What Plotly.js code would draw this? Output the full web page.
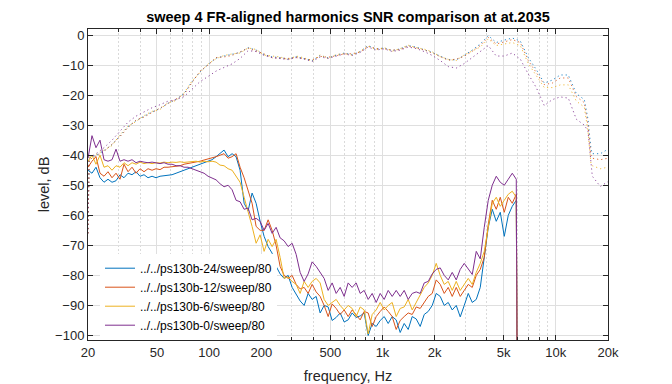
<!DOCTYPE html>
<html>
<head>
<meta charset="utf-8">
<script src="https://cdn.plot.ly/plotly-3.0.1.min.js"></script>
<style>html,body{margin:0;padding:0;background:#fff;}#chart{width:672px;height:384px;}</style>
</head>
<body>
<div id="chart"></div>
<script>
// ---------- data ----------
var seriesNames = ['../../ps130b-24/sweep/80', '../../ps130b-12/sweep/80', '../../ps130b-6/sweep/80', '../../ps130b-0/sweep/80'];
var seriesColors = ['#0072BD', '#D95319', '#EDB120', '#7E2F8E'];

// frequency grid of the harmonic (solid) curves, Hz
var freqH = [20, 21.09, 22.24, 23.46, 24.74, 26.09, 27.52, 29.02, 30.60, 32.27, 34.04, 35.90, 37.86, 39.92, 42.10, 44.40, 46.83, 49.38, 52.08, 54.92, 57.92, 61.09, 64.42, 67.94, 71.65, 75.56, 79.69, 84.04, 88.63, 93.47, 98.57, 103.95, 109.6, 115.6, 121.9, 128.6, 135.6, 143.0, 150.8, 159.1, 167.8, 176.9, 186.6, 196.8, 207.5, 218.9, 230.8, 243.4, 256.7, 270.7, 285.5, 301.1, 317.6, 334.9, 353.2, 372.5, 392.8, 414.3, 436.9, 460.7, 485.9, 512.4, 540.4, 569.9, 601.0, 633.9, 668.5, 705.0, 743.5, 784.1, 826.9, 872.1, 919.7, 969.9, 1022.9, 1078.7, 1137.6, 1199.8, 1265.3, 1334.4, 1407.3, 1484.1, 1565.2, 1650.6, 1740.8, 1835.8, 1936.1, 2041.8, 2153.3, 2270.9, 2395.0, 2525.7, 2663.6, 2809.1, 2962.5, 3124.3, 3294.9, 3474.9, 3664.6, 3864.8, 4075.8, 4298.4, 4533.2, 4780.7, 5041.8, 5317.1, 5607.5, 5913.7, 6000];

// harmonics level, dB (solid lines)
var harm24 = [-45, -46, -44, -47.5, -49, -48, -49, -48.5, -46.5, -47.5,
  -46, -46.5, -45.5, -47, -46.5, -47.5, -47, -47.5, -47, -46.8,
  -46.5, -46.5, -46, -45.5, -45, -44.5, -44, -43.5, -43, -42.5,
  -42, -41.5, -40.5, -39.5, -38.3, -40.5, -39.5, -40.5, -45, -56,
  -58.5, -52.6, -56, -62, -67, -70.4, -72.6, -77, -79.5, -81,
  -80, -84, -86.5, -88.5, -90, -86, -88, -87, -92.5, -90,
  -90.5, -95, -94, -92.5, -95.5, -94.8, -92.5, -94, -93.5, -92.5,
  -100, -96, -97, -95, -93.7, -96, -93.7, -94.8, -99, -96,
  -98, -93.7, -94.5, -97, -93, -92, -90, -86, -87, -90,
  -89, -91.5, -90, -93.8, -90, -86, -89, -88, -84, -73,
  -64, -58, -62, -59, -67, -60, -57, -55, -130];
var harm12 = [-44, -42, -40.5, -46, -47, -45.5, -47.5, -46, -48, -43,
  -45.5, -44, -46, -44.5, -45.5, -44.5, -45, -44.5, -44.8, -44,
  -44, -43.8, -43.5, -43.5, -43, -42.8, -42.6, -42.3, -42, -41.6,
  -41.3, -40.8, -40.5, -40, -39.5, -41, -40.5, -39.5, -44, -47.5,
  -51.5, -56, -63.7, -65, -65, -61.5, -65, -70, -77, -80,
  -81, -80, -83, -84.5, -84, -86, -83, -85.5, -87, -90,
  -93.7, -89.5, -91, -93, -91.5, -93.7, -91.5, -93, -94.8, -92,
  -92.5, -97, -93.7, -92, -90.5, -92, -93.7, -98, -95, -93.7,
  -92.5, -93, -90.5, -91, -89, -87, -86, -81.5, -83, -86,
  -84, -87, -84, -87, -85, -83, -84, -80, -78, -74,
  -63, -55, -58, -54, -59, -54, -56, -53, -130];
var harm6 = [-42, -40, -43, -40, -44, -43.5, -45, -43.5, -44, -42.5,
  -43.5, -42.5, -43, -42.3, -42.8, -42.5, -42.8, -42.5, -42.6, -42.3,
  -42.5, -42.3, -42.4, -42.2, -42.4, -42.2, -42.2, -42, -42.3, -42,
  -42.2, -42, -42.3, -43.3, -43.5, -44.5, -45, -47, -49, -54,
  -58.5, -63.7, -69.3, -66.5, -72, -68, -70.4, -68, -74, -81,
  -80.5, -82, -83, -86, -82, -84, -82, -81, -82.5, -88,
  -90, -89, -88, -90, -91.5, -90, -91, -93.7, -90.5, -91.5,
  -99.5, -93, -91.5, -89, -91.5, -90, -89, -93.7, -91, -90.5,
  -88, -91.5, -89, -87, -84, -82.5, -80, -76, -80, -83,
  -82, -85, -82, -85, -83, -81, -83, -79, -76, -72,
  -64, -56, -54, -57, -55, -53, -52, -54, -130];
var harm0 = [-41, -33.5, -37.5, -35, -41.5, -42, -41.5, -38, -42, -41.5,
  -42, -41.5, -42.5, -42, -42.3, -42.5, -42.3, -42.5, -42.8, -42.5,
  -43, -43, -43.5, -43.5, -44, -44, -44.5, -45, -45.6, -46,
  -47, -47.5, -48.2, -49.5, -50.5, -50, -51.5, -55, -55.5, -58,
  -57.6, -61.5, -61, -62, -65, -62.7, -66, -64, -67.5, -68.5,
  -70.4, -69.3, -73, -79, -82, -79.5, -75.5, -77, -79, -81,
  -85, -82.5, -86, -84, -87, -82.5, -84, -82.5, -86, -85,
  -88, -86, -89, -86, -88, -85, -87, -85, -87, -85,
  -88, -86, -85.5, -86, -82.5, -82, -79.5, -78, -77.5, -80,
  -81.5, -79, -81.5, -78, -76, -78, -79.7, -72, -74.5, -64,
  -55, -50, -47, -49, -50, -48, -46, -48, -130];

// frequency grid of the FR (dotted) curves, Hz
var freqFR = [20, 20.3, 22.24, 24.74, 27.52, 30.60, 34.04, 37.86, 42.10, 46.83, 52.08, 57.92, 64.42, 71.65, 79.69, 88.63, 98.57, 109.6, 121.9, 135.6, 150.8, 167.8, 186.6, 207.5, 230.8, 256.7, 285.5, 317.6, 353.2, 392.8, 436.9, 485.9, 540.4, 601.0, 668.5, 743.5, 826.9, 919.7, 1022.9, 1137.6, 1265.3, 1407.3, 1565.2, 1740.8, 1936.1, 2153.3, 2395, 2663.6, 2962.5, 3294.9, 3664.6, 4075.8, 4533.2, 5041.8, 5607.5, 6236.6, 6936, 7714, 8580, 9542, 10613, 11804, 13128, 14600, 15332, 15958, 16238, 18060, 20000];

// aligned frequency response, dB (dotted lines)
var fr24 = [-66, -41, -40, -38.5, -36.5, -33.5, -30.5, -28.5, -27, -25.6, -24.5, -22.7, -21.5, -19.5, -15.5, -12.3, -9.8, -7.7, -7, -6.5, -5.8, -4.2, -5, -6.5, -7.3, -7.5, -8, -7.2, -7.8, -8.5, -6.8, -7.6, -6.7, -6, -6.5, -5.5, -3.5, -4.7, -4.3, -5.2, -4.6, -3.5, -4, -4.8, -5.8, -7, -8.2, -8.3, -6.8, -5, -3, -0.2, -2.5, -1.7, -1, -2, -7.5, -11.5, -16, -15, -13.3, -13.3, -19.5, -21.5, -28, -38, -39.5, -39.5, -38];
var fr12 = [-66, -41.5, -40.3, -38.8, -36.3, -33.8, -30.8, -28.3, -27.3, -25.8, -24.3, -23, -21.3, -19.8, -15.8, -12, -10, -7.5, -7.3, -6.8, -5.6, -4.4, -5.3, -6.3, -7.6, -7.8, -7.8, -7.5, -8, -8.3, -7.1, -7.4, -6.9, -6.3, -6.2, -5.7, -3.8, -4.5, -4.6, -5, -4.9, -3.7, -4.3, -5, -6, -7.3, -8.4, -8, -7.1, -5.4, -3.5, -0.8, -3, -2.3, -1.5, -2.5, -8.5, -12.5, -16.5, -16, -14.3, -14.3, -20.5, -22.5, -30, -40, -41, -41.5, -41];
var fr6 = [-66, -40.5, -39.8, -38.2, -36.8, -33.2, -30.3, -28.8, -26.8, -25.4, -24.8, -22.5, -21.8, -19.3, -15.3, -12.5, -9.6, -7.9, -6.8, -6.3, -6, -4.3, -4.8, -6.7, -7.1, -7.3, -8.2, -7, -7.6, -8.7, -6.6, -7.8, -6.5, -6.2, -6.7, -5.4, -3.6, -4.9, -4.2, -5.4, -4.5, -3.4, -4.2, -4.7, -5.6, -7.2, -8.1, -8.5, -6.6, -5.2, -4, -1.3, -3.5, -3, -2.5, -3.5, -9.5, -13.5, -17.5, -17.5, -16.6, -16.6, -22, -24, -32, -43, -43.5, -44.5, -44];
var fr0 = [-66, -41, -39.5, -37.5, -35, -32, -29, -27, -25.5, -24.2, -23.2, -22, -21.5, -20.5, -18, -15.5, -13.8, -12, -10.8, -9.6, -7.8, -5.2, -5.5, -6.8, -7.5, -7.8, -8.2, -7.5, -8, -8.8, -7.3, -7.8, -7, -6.3, -6.8, -5.8, -4, -5, -4.6, -5.5, -5, -4, -4.5, -5.5, -6.8, -8.5, -10.5, -11, -9.5, -7.5, -5.5, -3.5, -7, -7, -6, -8, -13, -17.5, -23.5, -21.5, -20.6, -21, -28, -30, -32, -44, -47, -50.4, -48.8];

// axis ticks
var xTickVals = [20, 50, 100, 200, 500, 1000, 2000, 5000, 10000, 20000];
var xTickText = ['20', '50', '100', '200', '500', '1k', '2k', '5k', '10k', '20k'];
var xMinorVals = [30, 40, 60, 70, 80, 90, 300, 400, 600, 700, 800, 900, 3000, 4000, 6000, 7000, 8000, 9000];
var yTickVals = [0, -10, -20, -30, -40, -50, -60, -70, -80, -90, -100];

// ---------- traces ----------
var frSeries = [fr24, fr12, fr6, fr0];
var harmSeries = [harm24, harm12, harm6, harm0];
var traces = [];
frSeries.forEach(function (ys, i) {
  traces.push({
    x: freqFR, y: ys, type: 'scatter', mode: 'lines', showlegend: false,
    hoverinfo: 'skip', opacity: 0.85,
    line: {color: seriesColors[i], width: 1, dash: '1.2px,3px'}
  });
});
harmSeries.forEach(function (ys, i) {
  traces.push({
    x: freqH, y: ys, type: 'scatter', mode: 'lines', name: seriesNames[i],
    line: {color: seriesColors[i], width: 1}
  });
});

var axisColor = '#262626';
var layout = {
  width: 672, height: 384,
  margin: {l: 88, r: 64, t: 29, b: 44, pad: 0},
  paper_bgcolor: '#ffffff', plot_bgcolor: '#ffffff',
  font: {family: 'Liberation Sans, Arial, Helvetica, sans-serif', size: 13, color: axisColor},
  title: {
    text: '<b>sweep 4 FR-aligned harmonics SNR comparison at at.2035</b>',
    font: {size: 14.5, color: '#000000'},
    x: 0.5, xref: 'paper', xanchor: 'center',
    y: 1 - 17 / 384, yref: 'container', yanchor: 'middle'
  },
  showlegend: true,
  legend: {
    x: (100 - 88) / 520, xanchor: 'left', xref: 'paper',
    y: (340.3 - 254) / 311, yanchor: 'top', yref: 'paper',
    bgcolor: '#ffffff', borderwidth: 0,
    font: {size: 12, color: '#000000'},
    traceorder: 'normal'
  },
  xaxis: {
    type: 'log', range: [Math.log10(20), Math.log10(20000)],
    tickmode: 'array', tickvals: xTickVals, ticktext: xTickText,
    ticks: 'inside', ticklen: 5, tickwidth: 1, tickcolor: axisColor,
    showline: true, linecolor: axisColor, linewidth: 1, mirror: 'ticks',
    showgrid: true, gridcolor: '#dfdfdf', gridwidth: 1, zeroline: false,
    minor: {
      tickmode: 'array', tickvals: xMinorVals, ticks: 'inside', ticklen: 3,
      tickcolor: axisColor, showgrid: true, gridcolor: '#dadada', griddash: '2px,2px', gridwidth: 1
    },
    tickfont: {size: 13, color: axisColor},
    title: {text: 'frequency, Hz', font: {size: 14.5, color: axisColor}}
  },
  yaxis: {
    range: [-101.5, 2],
    tickmode: 'array', tickvals: yTickVals,
    ticks: 'inside', ticklen: 5, tickwidth: 1, tickcolor: axisColor,
    showline: true, linecolor: axisColor, linewidth: 1, mirror: 'ticks',
    showgrid: true, gridcolor: '#dfdfdf', gridwidth: 1, zeroline: false,
    tickfont: {size: 13, color: axisColor},
    title: {text: 'level, dB', font: {size: 14.5, color: axisColor}}
  }
};

Plotly.newPlot('chart', traces, layout, {staticPlot: true, displayModeBar: false});
</script>
</body>
</html>
